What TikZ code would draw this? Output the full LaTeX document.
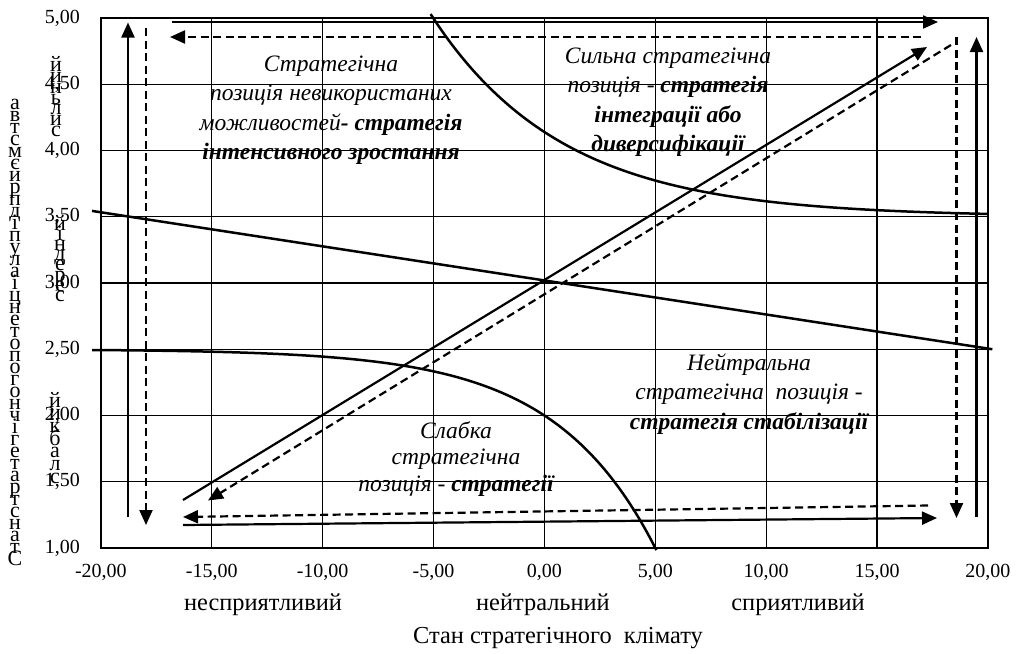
\documentclass[tikz,border=0pt]{standalone}
\usepackage{fontspec}
\setmainfont{Liberation Serif}
\usetikzlibrary{arrows.meta}
\begin{document}
\begin{tikzpicture}[x=1pt,y=-1pt,
  declare function={PX(\u)=544.4+22.175*\u; PY(\v)=548-132.5*(\v-1);},
  gridline/.style={line width=1.2pt},
  curveline/.style={line width=2.5pt},
  arr/.style={line width=2.2pt,-{Triangle[length=15pt,width=13pt]}},
  darr/.style={arr,dash pattern=on 8pt off 4.5pt},
  ticklabel/.style={font=\fontsize{20}{24}\selectfont, inner sep=0pt},
  catlabel/.style={font=\fontsize{24.4}{28}\selectfont, inner sep=0pt},
  note/.style={font=\fontsize{23.5}{29.5}\selectfont\itshape, align=center, inner sep=0pt},
  stackch/.style={font=\fontsize{22}{24}\selectfont, inner sep=0pt, anchor=base},
]
\useasboundingbox (0,0) rectangle (1019,653);

% grid and frame
\foreach \u in {-15,-10,-5,0,5,10,15}
  \draw[gridline] ({PX(\u)},{PY(1)}) -- ({PX(\u)},{PY(5)});
\foreach \v in {1.5,2.0,2.5,3.0,3.5,4.0,4.5}
  \draw[gridline] ({PX(-20)},{PY(\v)}) -- ({PX(20)},{PY(\v)});
\draw[gridline] ({PX(-20)},{PY(1)}) rectangle ({PX(20)},{PY(5)});

% tick labels
\foreach \v/\t [count=\i] in {1/{1,00},1.5/{1,50},2/{2,00},2.5/{2,50},3/{3,00},3.5/{3,50},4/{4,00},4.5/{4,50},5/{5,00}}
  \node[ticklabel,anchor=east] (yt\i) at (80,{PY(\v)}) {\t};
\foreach \u/\t [count=\i] in {-20/{-20,00},-15/{-15,00},-10/{-10,00},-5/{-5,00},0/{0,00},5/{5,00},10/{10,00},15/{15,00},20/{20,00}}
  \node[ticklabel] (xt\i) at ({PX(\u)},572) {\t};

% axis category labels
\node[catlabel] (c1) at (263,605) {несприятливий};
\node[catlabel] (c2) at (543,605) {нейтральний};
\node[catlabel] (c3) at (798,605) {сприятливий};
\node[catlabel] (xtitle) at (558,638) {Стан стратегічного\ \ клімату};

% stacked vertical labels
\foreach \c [count=\i] in {а,в,т,с,м,є,и,р,п,д,і,п,у,л,а,і,ц,н,е,т,о,п,о,г,о,н,ч,і,г,е,т,а,р,т,с,н,а,т,С}
  \node[stackch] (ya\i) at (15,{109+12*(\i-1)}) {\c};
\foreach \c [count=\i] in {й,и,н,ь,л,и,с}
  \node[stackch] (yb\i) at (56,{71.7+10.8*(\i-1)}) {\c};
\foreach \c [count=\i] in {й,і,н,д,е,р,е,с}
  \node[stackch] (yc\i) at (60,{230+10.2*(\i-1)}) {\c};
\foreach \c [count=\i] in {й,и,к,б,а,л,с}
  \node[stackch] (yd\i) at (55,{407+12.7*(\i-1)}) {\c};

% curves
\draw[curveline] plot[domain=-5.13:20,samples=120,smooth] ({PX(\x)},{PY(3.5+exp(-0.17*(\x+2.63)))});
\draw[curveline] plot[domain=-20.4:5.05,samples=120,smooth] ({PX(\x)},{PY(2.5-0.5*exp(\x*ln(3)/5))});
\draw[curveline] ({PX(-20.4)},{PY(3.544)}) -- ({PX(20.2)},{PY(2.50)});

% arrow end points
\coordinate (ts1) at (172,22);   \coordinate (ts2) at (938,22);
\coordinate (td1) at (921,37);   \coordinate (td2) at (170,37);
\coordinate (ls1) at (128,517);  \coordinate (ls2) at (128,22.5);
\coordinate (ld1) at (146,28);   \coordinate (ld2) at (146,525);
\coordinate (rd1) at (956.5,37); \coordinate (rd2) at (956.5,518);
\coordinate (rs1) at (976.5,517);\coordinate (rs2) at (976.5,37);
\coordinate (bd1) at (928,505.5);\coordinate (bd2) at (183,517);
\coordinate (bs1) at (183,525);  \coordinate (bs2) at (937,518);
\coordinate (ds1) at (183,500);  \coordinate (ds2) at (927,47);
\coordinate (dd1) at (951,45);   \coordinate (dd2) at (208,500.5);

\draw[arr] (ts1) -- (ts2);
\draw[darr] (td1) -- (td2);
\draw[arr] (ls1) -- (ls2);
\draw[darr] (ld1) -- (ld2);
\draw[darr] (rd1) -- (rd2);
\draw[arr] (rs1) -- (rs2);
\draw[darr] (bd1) -- (bd2);
\draw[arr] (bs1) -- (bs2);
\draw[arr] (ds1) -- (ds2);
\draw[darr] (dd1) -- (dd2);

% notes
\node[note] (n1) at (331,110) {Стратегічна\\позиція невикористаних\\можливостей\textbf{- стратегія}\\\textbf{інтенсивного зростання}};
\node[note] (n2) at (668,102) {Сильна стратегічна\\позиція - \textbf{стратегія}\\\textbf{інтеграції або}\\\textbf{диверсифікації}};
\node[note] (n3) at (749,394) {Нейтральна\\стратегічна\ \ позиція -\\\textbf{стратегія стабілізації}};
\node[note,font=\fontsize{23.5}{26.5}\selectfont\itshape] (n4) at (456,459) {Слабка\\стратегічна\\позиція - \textbf{стратегії}};
\end{tikzpicture}
\end{document}
